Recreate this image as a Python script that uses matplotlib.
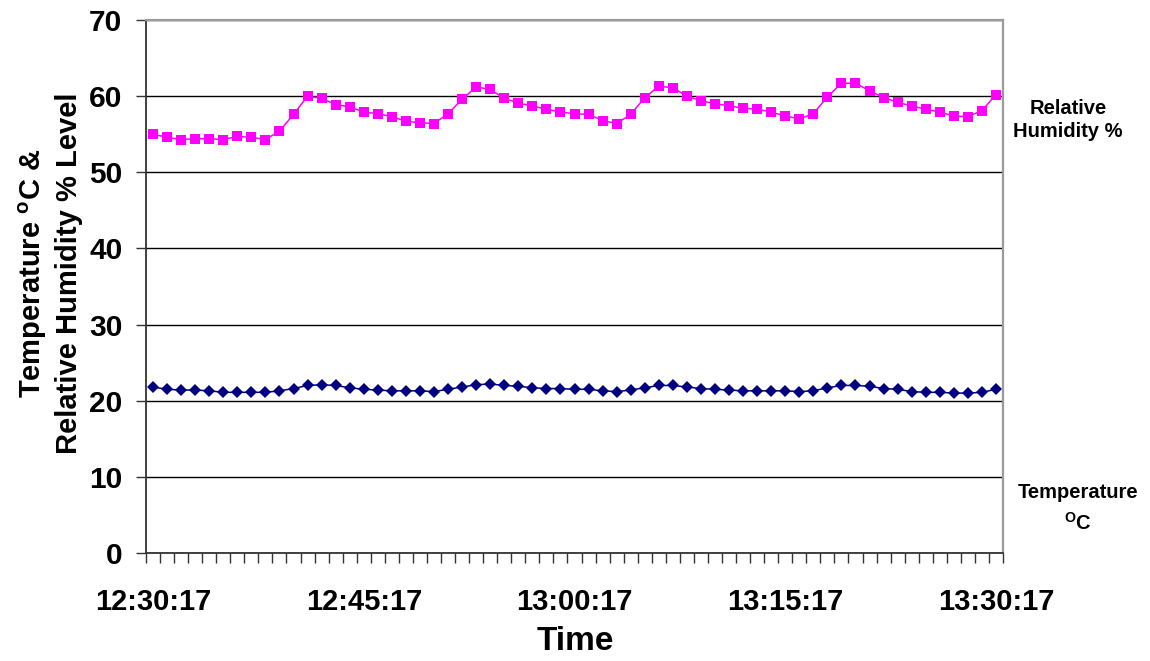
import numpy as np
import pandas as pd
import matplotlib
matplotlib.use("Agg")
import matplotlib.pyplot as plt

plt.rcParams['font.family'] = ['Liberation Sans', 'DejaVu Sans']
plt.rcParams['font.weight'] = 'bold'
plt.rcParams['mathtext.fontset'] = 'custom'
plt.rcParams['mathtext.rm'] = 'Liberation Sans:bold'
plt.rcParams['mathtext.bf'] = 'Liberation Sans:bold'

# Readings logged once a minute from 12:30:17 to 13:30:17
times = pd.date_range("2000-01-01 12:30:17", periods=61, freq="1min").strftime("%H:%M:%S").tolist()

humidity = [55.0, 54.6, 54.3, 54.4, 54.4, 54.3, 54.7, 54.6, 54.3, 55.4,
            57.6, 60.0, 59.7, 58.9, 58.6, 57.9, 57.7, 57.3, 56.7, 56.5,
            56.4, 57.7, 59.6, 61.2, 60.9, 59.7, 59.1, 58.7, 58.3, 57.9,
            57.7, 57.6, 56.8, 56.4, 57.6, 59.8, 61.3, 61.1, 60.0, 59.4,
            59.0, 58.75, 58.4, 58.3, 57.9, 57.4, 57.0, 57.7, 59.9, 61.7,
            61.7, 60.7, 59.8, 59.2, 58.7, 58.3, 57.9, 57.4, 57.3, 58.1,
            60.2]

temperature = [21.8, 21.5, 21.4, 21.4, 21.3, 21.1, 21.1, 21.1, 21.1, 21.3,
               21.6, 22.0, 22.1, 22.0, 21.7, 21.5, 21.4, 21.3, 21.3, 21.3,
               21.2, 21.5, 21.8, 22.1, 22.2, 22.0, 21.9, 21.7, 21.6, 21.6,
               21.5, 21.5, 21.3, 21.2, 21.4, 21.7, 22.0, 22.0, 21.8, 21.6,
               21.5, 21.4, 21.3, 21.3, 21.3, 21.3, 21.2, 21.3, 21.7, 22.0,
               22.0, 21.9, 21.6, 21.5, 21.2, 21.1, 21.1, 21.0, 21.0, 21.1,
               21.5]

label_every = 15

fig = plt.figure(figsize=(11.5, 6.61), dpi=100)
ax = fig.add_axes([146 / 1150, 1 - 553 / 661, (1003 - 146) / 1150, (553 - 20) / 661])

x = np.arange(len(times))
ax.plot(x, humidity, color='#FF00FF', lw=1.1, marker='s', markersize=7.0,
        markeredgewidth=0, zorder=3)
ax.plot(x, temperature, color='#000080', lw=1.1, marker='D', markersize=6.0,
        markeredgewidth=0, zorder=3)

ax.set_xlim(-0.5, len(times) - 0.5)
ax.set_ylim(0, 70)
ax.set_yticks(range(0, 71, 10))
ax.yaxis.grid(True, color='black', lw=1.0)
ax.set_axisbelow(True)

# category boundaries carry the small tick marks, labels sit on every 15th reading
ax.set_xticks(np.arange(-0.5, len(times), 1.0), minor=True)
ax.set_xticks(x[::label_every])
ax.set_xticklabels(times[::label_every])
ax.tick_params(axis='x', which='major', length=0, pad=25, labelsize=21)
ax.tick_params(axis='x', which='minor', length=7, width=1.0, color='#333333', direction='out')
ax.tick_params(axis='y', length=7, width=1.0, color='#333333', pad=10, labelsize=21.5)

for side in ('left', 'bottom'):
    ax.spines[side].set_color('#333333')
    ax.spines[side].set_linewidth(1.3)
for side in ('top', 'right'):
    ax.spines[side].set_color('#9a9a9a')
    ax.spines[side].set_linewidth(1.6)

fig.text(50 / 1150, 1 - 273 / 661,
         'Temperature $^{\\mathbf{o}}$C &\nRelative Humidity % Level',
         rotation=90, ha='center', va='center', fontsize=21,
         multialignment='center', linespacing=1.25)
fig.text(575 / 1150, 1 - 642 / 661, 'Time', ha='center', va='center', fontsize=24)

fig.text(1068 / 1150, 1 - 120 / 661, 'Relative\nHumidity %', ha='center', va='center',
         fontsize=14.5, multialignment='center', linespacing=1.3)
fig.text(1078 / 1150, 1 - 508 / 661, 'Temperature\n$^{\\mathrm{O}}$C', ha='center', va='center',
         fontsize=14.5, multialignment='center', linespacing=1.55)

fig.savefig('out.png', dpi=100)
